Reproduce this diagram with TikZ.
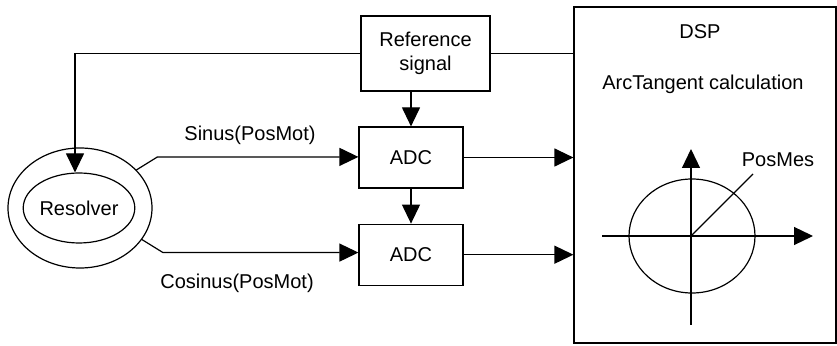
\documentclass[tikz,border=0pt]{standalone}
\usepackage{fontspec}
\setmainfont{Liberation Sans}
\usetikzlibrary{arrows.meta, positioning, shapes.geometric, calc}

\begin{document}
\begin{tikzpicture}[
    x=1pt, y=1pt,
    line width=1.2pt,
    >={Triangle[length=19pt, width=18pt]},
    font=\fontsize{20pt}{24pt}\selectfont,
    block/.style={rectangle, draw, inner sep=0pt, align=center,
        minimum width=104pt, minimum height=61pt},
    ring/.style={ellipse, draw, inner sep=0pt}
]
    \useasboundingbox (0,0) rectangle (837,345);

    % Nodes ------------------------------------------------------

    \node[block, minimum width=129pt, minimum height=75pt] (ref) at (425.5,291.5) {Reference\\signal};
    \node[block] (adc1) at (411,187.5) {ADC};
    \node[block, below=35pt of adc1] (adc2) {ADC};
    \node[block, minimum width=262pt, minimum height=336pt] (dsp) at (705,170) {};

    % DSP contents
    \node (dsplabel) at (700,313) {DSP};
    \node (atan) at (703,261) {ArcTangent calculation};
    \node[ring, minimum width=126pt, minimum height=114pt] (phase) at (692,109) {};
    \coordinate (origin) at (691,109);
    \node (posmes) at (778,185) {PosMes};

    % resolver
    \node[ring, minimum width=144pt, minimum height=120pt] (resout) at (80,137) {};
    \node[ring, minimum width=94pt, minimum height=70pt] (resin) at (79,137) {Resolver};

    % labels
    \node (sinlabel) at (250,210) {Sinus(PosMot)};
    \node (coslabel) at (237,62) {Cosinus(PosMot)};

    % Arrows ---------------------------------------------------

    \draw [->] (ref.west) -| ([xshift=-4pt]resin.north);
    \draw [->] (ref.south -| adc1.north) -- (adc1.north);
    \draw [->] (adc1) -- (adc2);
    \draw (ref.east) -- (ref.east -| dsp.west);
    \draw [->] (adc1.east) -- (adc1.east -| dsp.west);
    \draw [->] (adc2.east) -- (adc2.east -| dsp.west);

    \draw [->] (resout.34) -- ++(21,13) coordinate (sinbend) -- (sinbend -| adc1.west);
    \draw [->] (resout.-27) -- ++(21,-13) coordinate (cosbend) -- (cosbend -| adc2.west);

    % axes
    \draw [->] (origin -| 602,0) -- (origin -| 813,0);
    \draw [->] (origin |- 0,20) -- (origin |- 0,196);
    \draw (origin) -- (753,171);

\end{tikzpicture}
\end{document}
